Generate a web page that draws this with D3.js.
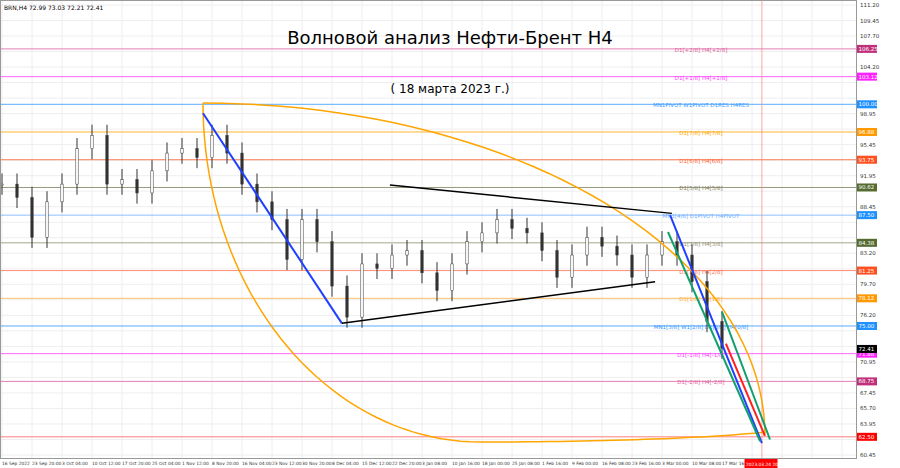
<!DOCTYPE html>
<html><head><meta charset="utf-8">
<script src="https://cdn.jsdelivr.net/npm/d3@7"></script>
<style>body{margin:0;background:#fff}text{font-family:"DejaVu Sans",sans-serif}</style>
</head><body><svg id="c" width="900" height="468"></svg>
<script>
// time labels, one every 30 px (label units)
var timeLabels = ["16 Sep 2022","23 Sep 20:00","3 Oct 04:00","10 Oct 12:00","17 Oct 20:00","25 Oct 04:00",
  "1 Nov 12:00","8 Nov 20:00","16 Nov 04:00","23 Nov 12:00","30 Nov 20:00","8 Dec 04:00","15 Dec 12:00",
  "22 Dec 20:00","3 Jan 08:00","10 Jan 16:00","18 Jan 00:00","25 Jan 08:00","1 Feb 16:00","9 Feb 00:00",
  "16 Feb 08:00","23 Feb 16:00","3 Mar 00:00","10 Mar 08:00","17 Mar 16:"];
// closes every half label unit
var closes = [91.0,89.5,85,89,91,95,96.5,91,91.5,90,92.5,94.5,95,94,96.5,94.5,91,89,87,82.5,87,84.5,79.5,76,
  82,81.5,83,83.5,81,79,82,84.5,85.5,87,86,85.5,83.5,80.5,83,85,84,83,80.5,83,84.5,83,80,75.5,72.5];
var levels = [
  {p:106.25,c:"#e060a0",t:"D1[+2/8] H4[+2/8]",tag:"#c0307a"},
  {p:103.12,c:"#ff40ff",t:"D1[+1/8] H4[+1/8]",tag:"#ff20ff"},
  {p:100.00,c:"#3399ff",t:"MN1PIVOT W1PIVOT D1RES H4RES",tag:"#1e90ff"},
  {p:96.88,c:"#ffa500",t:"D1[7/8] H4[7/8]",tag:"#ff9900"},
  {p:93.75,c:"#ff6030",t:"D1[6/8] H4[6/8]",tag:"#ff5020"},
  {p:90.62,c:"#808060",t:"D1[5/8] H4[5/8]",tag:"#556b2f"},
  {p:87.50,c:"#70b0ff",t:"MN1[4/8] D1PIVOT H4PIVOT",tag:"#1e90ff"},
  {p:84.38,c:"#909070",t:"D1[3/8] H4[3/8]",tag:"#556b2f"},
  {p:81.25,c:"#ff7050",t:"D1[2/8] H4[2/8]",tag:"#ff5020"},
  {p:78.12,c:"#ffb040",t:"D1[1/8] H4[1/8]",tag:"#ff9900"},
  {p:75.00,c:"#3399ff",t:"MN1[3/8] W1[2/8] D1[0/8] H4[0/8]",tag:"#1e90ff"},
  {p:71.88,c:"#ff40ff",t:"D1[-1/8] H4[-1/8]",tag:"#ff20ff"},
  {p:68.75,c:"#e060a0",t:"D1[-2/8] H4[-2/8]",tag:"#c0307a"},
  {p:62.50,c:"#ff6060",t:"",tag:"#ff0000"}];
var lastPrice = 72.41;
// trend lines [u1,p1,u2,p2,color,width]
var trendLines = [
  [6.7,99.0,11.33,75.3,"#2040ff",2],
  [11.33,75.3,21.77,80.0,"#000",1.5],
  [12.93,90.9,22.33,87.7,"#000",1.5],
  [22.27,87.5,25.33,61.8,"#2040ff",2],
  [22.2,85.6,25.27,62.0,"#10a070",2],
  [24.0,76.6,25.6,62.2,"#10a070",2],
  [24.13,73.0,25.43,62.6,"#ff2020",2]];
// orange arcs: ellipse pieces (centre/radii in label units & price, angles in degrees)
var arcs = [{cu:6.7,cp:62.7,ru:18.73,rp:37.44,from:0,to:90},
            {cu:15.93,cp:100.15,ru:9.23,rp:38.23,from:180,to:270},
            {cu:15.93,cp:64.17,ru:11.0,rp:2.26,from:270,to:330}];

var W=856,H=458;
var svg=d3.select("#c");
var x=d3.scaleLinear().domain([0,25]).range([2,752]);
var y=d3.scaleLinear().domain([60.45,111.2]).range([455,5]);

var ticks=d3.range(0,30).map(function(i){return 111.2-1.75*i;});
// grid
svg.append("g").selectAll("line").data(ticks).enter().append("line")
  .attr("x1",0).attr("x2",W).attr("y1",function(d){return y(d);}).attr("y2",function(d){return y(d);})
  .attr("stroke","#eee");
svg.append("g").selectAll("line").data(d3.range(0,29)).enter().append("line")
  .attr("y1",0).attr("y2",H).attr("x1",function(d){return x(d);}).attr("x2",function(d){return x(d);})
  .attr("stroke","#eee");
// levels
levels.forEach(function(l){
  svg.append("line").attr("x1",0).attr("x2",W).attr("y1",y(l.p)).attr("y2",y(l.p)).attr("stroke",l.c).attr("opacity",0.8);
  if(l.t) svg.append("text").attr("x",x(23.3)).attr("y",y(l.p)+3).attr("text-anchor","middle")
    .attr("font-size",5.5).attr("fill",l.c).text(l.t);
});
// red vertical future line
svg.append("line").attr("x1",x(25.33)).attr("x2",x(25.33)).attr("y1",0).attr("y2",H).attr("stroke","#ff8080").attr("stroke-width",0.7);
// candles
var step=0.5;
closes.forEach(function(c,i){
  var o=i?closes[i-1]:c, u=i*step;
  var hi=Math.max(o,c)+1.2, lo=Math.min(o,c)-1.2;
  var g=svg.append("g");
  g.append("line").attr("x1",x(u)).attr("x2",x(u)).attr("y1",y(hi)).attr("y2",y(lo)).attr("stroke","#333");
  g.append("rect").attr("x",x(u)-1.2).attr("width",2.4).attr("y",y(Math.max(o,c)))
    .attr("height",Math.max(1,Math.abs(y(o)-y(c)))).attr("fill",c>=o?"#fff":"#333").attr("stroke","#333").attr("stroke-width",0.5);
});
// arcs
arcs.forEach(function(a){
  var pts=d3.range(a.from,a.to+1,2).map(function(deg){var r=deg*Math.PI/180;
    return [x(a.cu+a.ru*Math.cos(r)),y(a.cp+a.rp*Math.sin(r))];});
  svg.append("path").attr("d",d3.line()(pts)).attr("fill","none").attr("stroke","#ffa500").attr("stroke-width",1.5);
});
trendLines.forEach(function(t){
  svg.append("line").attr("x1",x(t[0])).attr("y1",y(t[1])).attr("x2",x(t[2])).attr("y2",y(t[3]))
    .attr("stroke",t[4]).attr("stroke-width",t[5]);
});
// frame
svg.append("rect").attr("x",0.5).attr("y",0.5).attr("width",W).attr("height",H).attr("fill","none").attr("stroke","#999");
// right axis: skip ticks hidden behind level tags
var tagged=levels.map(function(l){return l.p;}).concat([lastPrice]);
svg.append("g").selectAll("text").data(ticks.filter(function(t){
    return tagged.every(function(p){return Math.abs(y(p)-y(t))>8;});})).enter().append("text")
  .attr("x",W+4).attr("y",function(d){return y(d)+2;}).attr("font-size",5.5).attr("fill","#333")
  .text(function(d){return d.toFixed(2);});
levels.concat([{p:lastPrice,tag:"#000"}]).forEach(function(l){
  svg.append("rect").attr("x",W+1).attr("y",y(l.p)-4).attr("width",20).attr("height",8).attr("fill",l.tag);
  svg.append("text").attr("x",W+2.5).attr("y",y(l.p)+2).attr("font-size",5.5).attr("fill","#fff").text(l.p.toFixed(2));
});
// bottom axis
svg.append("g").selectAll("text").data(timeLabels).enter().append("text")
  .attr("x",function(d,i){return x(i);}).attr("y",465).attr("font-size",4.4).attr("fill","#333").text(function(d){return d;});
svg.append("rect").attr("x",x(24.75)).attr("y",459).attr("width",33).attr("height",9).attr("fill","#ff0000");
svg.append("text").attr("x",x(24.75)+1.5).attr("y",465.5).attr("font-size",4.4).attr("fill","#fff").text("2023.03.24 20:00");
// header and titles
svg.append("text").attr("x",4).attr("y",10).attr("font-size",6).attr("fill","#000").text("BRN,H4  72.99 73.03 72.21 72.41");
svg.append("text").attr("x",450).attr("y",44).attr("text-anchor","middle").attr("font-size",18)
  .attr("font-family","DejaVu Serif").text("Волновой анализ Нефти-Брент Н4");
svg.append("text").attr("x",450).attr("y",93).attr("text-anchor","middle").attr("font-size",12)
  .attr("font-family","DejaVu Serif").text("( 18 марта 2023 г.)");
</script></body></html>
